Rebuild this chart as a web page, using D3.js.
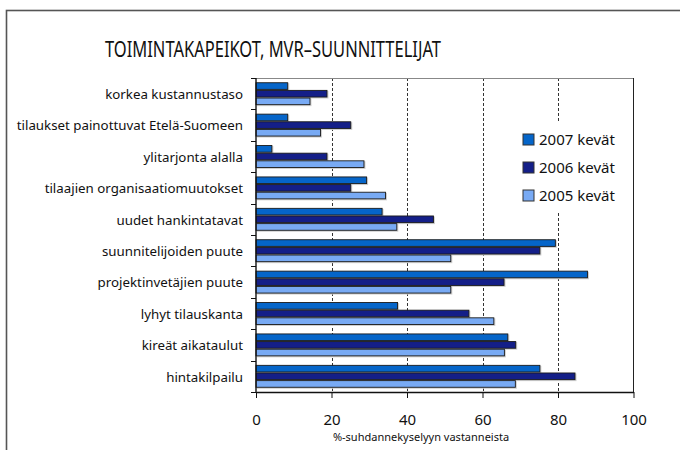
<!DOCTYPE html>
<html>
<head>
<meta charset="utf-8">
<script src="https://cdn.jsdelivr.net/npm/d3@7"></script>
<style>
  body { margin: 0; background: #fff; }
  text { font-family: "Noto Sans", "DejaVu Sans", sans-serif; fill: #111; }
</style>
</head>
<body>
<div id="chart"></div>
<script>
// categories top -> bottom
const categories = [
  "korkea kustannustaso",
  "tilaukset painottuvat Etelä-Suomeen",
  "ylitarjonta alalla",
  "tilaajien organisaatiomuutokset",
  "uudet hankintatavat",
  "suunnitelijoiden puute",
  "projektinvetäjien puute",
  "lyhyt tilauskanta",
  "kireät aikataulut",
  "hintakilpailu"
];
const seriesNames = ["2007 kevät", "2006 kevät", "2005 kevät"];
const v2007 = [8.4, 8.4, 4.2, 29.3, 33.4, 79.3, 87.8, 37.5, 66.7, 75.2];
const v2006 = [18.8, 25.1, 18.8, 25.1, 47.0, 75.2, 65.7, 56.4, 68.8, 84.5];
const v2005 = [14.3, 17.1, 28.6, 34.3, 37.3, 51.6, 51.6, 63.0, 65.8, 68.7];
const xTicks = [0, 20, 40, 60, 80, 100];
const colors = ["#0565c9", "#141f88", "#78aaf4"];

const W = 680, H = 450;
const plot = {left: 256, right: 633.5, top: 78, bottom: 392};

const svg = d3.select("#chart").append("svg")
  .attr("width", W).attr("height", H);

// outer frame (runs off the right and bottom edge)
svg.append("rect")
  .attr("x", 6.5).attr("y", 10.5)
  .attr("width", 700).attr("height", 500)
  .attr("fill", "none").attr("stroke", "#555").attr("stroke-width", 1.6);

svg.append("text")
  .attr("x", 105).attr("y", 57)
  .attr("font-size", 21.5)
  .attr("textLength", 336).attr("lengthAdjust", "spacingAndGlyphs")
  .text("TOIMINTAKAPEIKOT, MVR–SUUNNITTELIJAT");

const x = d3.scaleLinear().domain([0, 100]).range([plot.left, plot.right]);
const y = d3.scaleBand().domain(categories).range([plot.top, plot.bottom])
  .paddingInner(0.27).paddingOuter(0.135);
const ySub = d3.scaleBand().domain(seriesNames).range([0, y.bandwidth()]);

// dashed gridlines
svg.append("g").selectAll("line")
  .data(xTicks.filter(d => d > 0 && d < 100))
  .enter().append("line")
  .attr("x1", d => Math.round(x(d)) + 0.5).attr("x2", d => Math.round(x(d)) + 0.5)
  .attr("y1", plot.top).attr("y2", plot.bottom)
  .attr("stroke", "#333").attr("stroke-dasharray", "3,2");

// plot frame: top (grey) and right
svg.append("line").attr("x1", plot.left - 5).attr("x2", plot.right)
  .attr("y1", plot.top + 0.5).attr("y2", plot.top + 0.5)
  .attr("stroke", "#888").attr("stroke-width", 1.2);
svg.append("line").attr("x1", plot.right).attr("x2", plot.right)
  .attr("y1", plot.top).attr("y2", plot.bottom)
  .attr("stroke", "#222");

// legend background hides the gridline behind it
svg.append("rect").attr("x", 515).attr("y", 122).attr("width", 112).attr("height", 90)
  .attr("fill", "#fff");

const rows = categories.map((c, i) => ({ cat: c, vals: [v2007[i], v2006[i], v2005[i]] }));

const groups = svg.append("g").selectAll("g")
  .data(rows).enter().append("g")
  .attr("transform", d => "translate(0," + y(d.cat) + ")");

const bars = groups.selectAll("g")
  .data(d => d.vals.map((v, j) => ({ key: seriesNames[j], v: v, j: j })))
  .enter().append("g");

// light shadow
bars.append("rect")
  .attr("x", x(0) + 1)
  .attr("y", d => ySub(d.key) + 1)
  .attr("width", d => x(d.v) - x(0) + 0.5)
  .attr("height", ySub.bandwidth())
  .attr("fill", "#cfcfcf");
bars.append("rect")
  .attr("x", x(0))
  .attr("y", d => ySub(d.key) + 0.5)
  .attr("width", d => x(d.v) - x(0))
  .attr("height", ySub.bandwidth() - 1)
  .attr("fill", d => colors[d.j])
  .attr("stroke", "#1a1a1a").attr("stroke-width", 0.9);

// category axis
const step = y.step();
const yTicks = d3.range(categories.length + 1).map(i => plot.top + i * step);
svg.append("g").selectAll("line").data(yTicks).enter().append("line")
  .attr("x1", plot.left - 5).attr("x2", plot.left)
  .attr("y1", d => Math.round(d) + 0.5).attr("y2", d => Math.round(d) + 0.5)
  .attr("stroke", "#111");
svg.append("line").attr("x1", plot.left).attr("x2", plot.left)
  .attr("y1", plot.top).attr("y2", plot.bottom).attr("stroke", "#111").attr("stroke-width", 1.4);

svg.append("g").selectAll("text").data(categories).enter().append("text")
  .attr("x", 243)
  .attr("y", d => y(d) + y.bandwidth() / 2)
  .attr("dy", "0.4em")
  .attr("text-anchor", "end")
  .attr("font-size", 13.3)
  .text(d => d);

// value axis
const xAxis = svg.append("g")
  .attr("transform", "translate(0," + plot.bottom + ")")
  .call(d3.axisBottom(x).tickValues(xTicks).tickSize(6).tickPadding(16).tickSizeOuter(0));
xAxis.select(".domain").attr("stroke", "#111").attr("stroke-width", 1.3);
xAxis.selectAll(".tick line").attr("stroke", "#111");
xAxis.selectAll(".tick text")
  .attr("font-size", 15).attr("font-family", "'Noto Sans', sans-serif").attr("fill", "#111");

svg.append("text")
  .attr("x", 421).attr("y", 441)
  .attr("text-anchor", "middle")
  .attr("font-size", 11)
  .text("%-suhdannekyselyyn vastanneista");

// legend
const leg = svg.append("g").selectAll("g")
  .data(seriesNames).enter().append("g")
  .attr("transform", (d, i) => "translate(523," + (134 + i * 28) + ")");
leg.append("rect")
  .attr("width", 11).attr("height", 11)
  .attr("fill", (d, i) => colors[i])
  .attr("stroke", "#333");
leg.append("text")
  .attr("x", 16).attr("y", 6).attr("dy", "0.35em")
  .attr("font-size", 15)
  .text(d => d);
</script>
</body>
</html>
